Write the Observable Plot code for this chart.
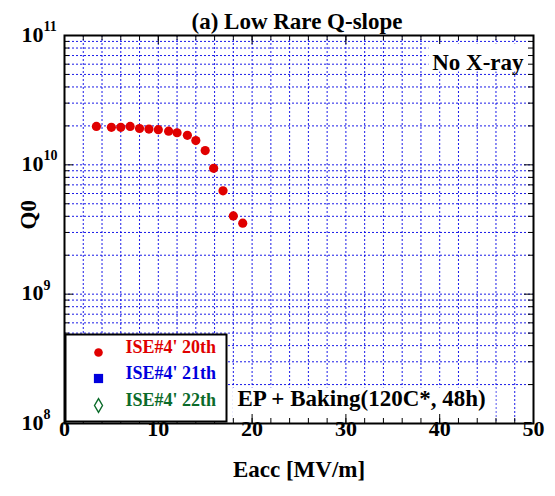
<!DOCTYPE html>
<html>
<head>
<meta charset="utf-8">
<script src="https://cdn.jsdelivr.net/npm/d3@7"></script>
<script src="https://cdn.jsdelivr.net/npm/@observablehq/plot@0.6"></script>
<style>
  html, body { margin: 0; padding: 0; background: white; }
</style>
</head>
<body>
<div id="chart"></div>
<script>
// ---- data ----
const eacc20 = [3.4, 5.0, 6.0, 7.0, 8.0, 9.0, 10.0, 11.1, 12.0, 13.1, 14.0, 15.0, 15.9, 16.9, 18.0, 19.0];
const q020   = [1.98e10, 1.95e10, 1.95e10, 1.98e10, 1.91e10, 1.89e10, 1.87e10, 1.82e10, 1.77e10, 1.69e10, 1.54e10, 1.29e10, 9.4e9, 6.3e9, 4.03e9, 3.54e9];
const eacc21 = [];
const q021   = [];
const eacc22 = [];
const q022   = [];

const seriesNames  = ["ISE#4' 20th", "ISE#4' 21th", "ISE#4' 22th"];
const seriesColors = ["#e00000", "#0000dd", "#0b6b2a"];
const seriesSymbols = ["circle", "square", "diamond"];

const xTickLabels = [0, 10, 20, 30, 40, 50];
const yDecades = [8, 9, 10, 11];

const titleText = "(a) Low Rare Q-slope";
const noteTop = "No X-ray";
const noteBottom = "EP + Baking(120C*, 48h)";
const xLabel = "Eacc [MV/m]";
const yLabel = "Q0";

// ---- derived tables ----
const pts20 = eacc20.map((e, i) => ({e, q: q020[i]}));
const pts21 = eacc21.map((e, i) => ({e, q: q021[i]}));
const pts22 = eacc22.map((e, i) => ({e, q: q022[i]}));

const xMinor = d3.range(0, 51, 2);
const xGrid = xMinor.filter(d => d > 0 && d < 50);
const yMinor = [];
for (const k of [8, 9, 10]) for (let m = 2; m <= 9; m++) yMinor.push(m * Math.pow(10, k));
const yMajor = yDecades.map(k => Math.pow(10, k));
const yGrid = yMinor.concat([1e9, 1e10]);

const W = 555, H = 496;
const mL = 64, mR = 22, mT = 35, mB = 73;
const fw = W - mL - mR, fh = H - mT - mB;

const FONT = "Liberation Serif, Times New Roman, serif";
const gridStyle = {stroke: "#0000e6", strokeWidth: 1, strokeDasharray: "2,2", strokeOpacity: 0.9};

const legendMarks = [];
seriesNames.forEach((name, i) => {
  const dy = [-71, -45, -18][i];
  const sym = seriesSymbols[i];
  const hollow = sym === "diamond";
  legendMarks.push(Plot.dot([0], {
    frameAnchor: "bottom-left", dx: 34, dy,
    symbol: sym, r: sym === "circle" ? 4.3 : (sym === "square" ? 5.2 : 4.2),
    fill: hollow ? "white" : seriesColors[i],
    stroke: seriesColors[i], strokeWidth: hollow ? 1.4 : 0
  }));
  legendMarks.push(Plot.text([name], {
    frameAnchor: "bottom-left", dx: 61, dy, text: d => d,
    textAnchor: "start", fill: seriesColors[i], fontSize: 18, fontWeight: "bold"
  }));
});

const chart = Plot.plot({
  width: W, height: H,
  marginLeft: mL, marginRight: mR, marginTop: mT, marginBottom: mB,
  style: {fontFamily: FONT, fontWeight: "bold", fontSize: "22px", background: "white", overflow: "visible"},
  x: {domain: [0, 50], axis: null},
  y: {type: "log", domain: [1e8, 1e11], axis: null},
  marks: [
    // grid
    Plot.ruleX(xGrid, {x: d => d, ...gridStyle}),
    Plot.ruleY(yGrid, {y: d => d, ...gridStyle}),
    // white boxes behind annotations
    Plot.frame({fill: "white", stroke: null, insetLeft: 364, insetRight: 0, insetTop: 8, insetBottom: fh - 36}),
    Plot.frame({fill: "white", stroke: null, insetLeft: 168, insetRight: 38, insetTop: fh - 36, insetBottom: 0}),
    // ticks (inward, mirrored)
    Plot.ruleX(xMinor, {x: d => d, insetTop: fh - 5, stroke: "black", strokeWidth: 1}),
    Plot.ruleX(xMinor, {x: d => d, insetBottom: fh - 5, stroke: "black", strokeWidth: 1}),
    Plot.ruleX(xTickLabels, {x: d => d, insetTop: fh - 9, stroke: "black", strokeWidth: 1}),
    Plot.ruleX(xTickLabels, {x: d => d, insetBottom: fh - 9, stroke: "black", strokeWidth: 1}),
    Plot.ruleY(yMinor, {y: d => d, insetRight: fw - 5, stroke: "black", strokeWidth: 1}),
    Plot.ruleY(yMinor, {y: d => d, insetLeft: fw - 5, stroke: "black", strokeWidth: 1}),
    Plot.ruleY(yMajor, {y: d => d, insetRight: fw - 9, stroke: "black", strokeWidth: 1}),
    Plot.ruleY(yMajor, {y: d => d, insetLeft: fw - 9, stroke: "black", strokeWidth: 1}),
    // legend box
    Plot.frame({fill: "white", stroke: "black", strokeWidth: 2, insetLeft: 1, insetRight: 307, insetTop: 299, insetBottom: 2}),
    ...legendMarks,
    // frame
    Plot.frame({stroke: "black", strokeWidth: 2}),
    // data
    Plot.dot(pts20, {x: "e", y: "q", r: 4.6, fill: seriesColors[0], stroke: null}),
    Plot.dot(pts21, {x: "e", y: "q", r: 4.6, symbol: "square", fill: seriesColors[1]}),
    Plot.dot(pts22, {x: "e", y: "q", r: 4, symbol: "diamond", fill: "white", stroke: seriesColors[2]}),
    // x tick labels
    Plot.text(xTickLabels, {x: d => d, frameAnchor: "bottom", dy: 12, text: d => String(d), fontSize: 22}),
    // y tick labels: 10 with superscript exponent
    Plot.text(yDecades, {y: d => Math.pow(10, d), frameAnchor: "left", dx: -21, dy: -1, text: () => "10", textAnchor: "end", fontSize: 22}),
    Plot.text(yDecades, {y: d => Math.pow(10, d), frameAnchor: "left", dx: -21, dy: -9, text: d => String(d), textAnchor: "start", fontSize: 14}),
    // axis labels
    Plot.text([xLabel], {frameAnchor: "bottom", dy: 53, text: d => d, fontSize: 23}),
    Plot.text([yLabel], {frameAnchor: "left", dx: -36, dy: 0, text: d => d, rotate: -90, fontSize: 23}),
    // title and notes
    Plot.text([titleText], {frameAnchor: "top", dx: -2, dy: -23, text: d => d, fontSize: 23}),
    Plot.text([noteTop], {frameAnchor: "top-right", dx: -10, dy: 18, text: d => d, textAnchor: "end", fontSize: 23}),
    Plot.text([noteBottom], {frameAnchor: "bottom-left", dx: 173, dy: -18, text: d => d, textAnchor: "start", fontSize: 23})
  ]
});
document.getElementById("chart").appendChild(chart);
</script>
</body>
</html>
